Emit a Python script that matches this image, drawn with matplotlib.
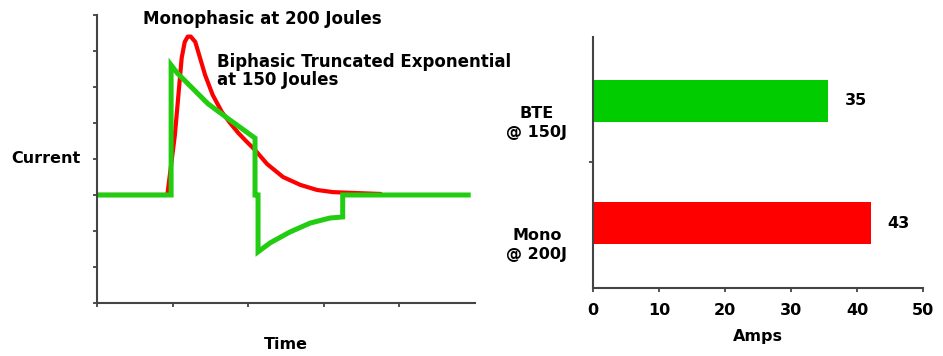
# defibrillation waveforms (left) and peak current bars (right)
import matplotlib.pyplot as plt

# monophasic damped sine waveform
mono_t = [0, 0.93, 1.03, 1.12, 1.16, 1.20, 1.24, 1.30, 1.43, 1.53, 1.65, 1.76, 1.87,
          1.98, 2.09, 2.25, 2.46, 2.69, 2.91, 3.12, 3.35, 3.74]
mono_i = [3, 3.0, 4.67, 6.81, 7.25, 7.40, 7.40, 7.25, 6.33, 5.78, 5.31, 5.00, 4.72,
          4.48, 4.25, 3.86, 3.50, 3.28, 3.14, 3.08, 3.06, 3.03]

# biphasic truncated exponential waveform
bte_t = [0, 0.98, 0.98, 1.06, 1.47, 1.76, 2.09, 2.09, 2.13, 2.13, 2.29, 2.55, 2.82,
         3.08, 3.25, 3.25, 4.91]
bte_i = [3, 3.0, 6.61, 6.39, 5.53, 5.08, 4.58, 3.0, 3.0, 1.42, 1.67, 1.97, 2.22,
         2.36, 2.39, 3.0, 3.0]

# bar chart data
categories = ["Mono\n@ 200J", "BTE\n@ 150J"]
amps = [42.1, 35.6]
amp_labels = ["43", "35"]
bar_colors = ["#ff0000", "#00cc00"]

plt.rcParams["font.family"] = "DejaVu Sans"
plt.rcParams["font.weight"] = "bold"
plt.rcParams["font.size"] = 11.5

fig = plt.figure(figsize=(9.43, 3.56), dpi=100)
axis_col = "#444444"

# ---- left: waveforms ----
ax1 = fig.add_axes([0.1029, 0.1489, 0.4008, 0.809])
ax1.plot(mono_t, mono_i, color="#ff0000", lw=3.0, solid_joinstyle="round")
ax1.plot(bte_t, bte_i, color="#22cc11", lw=3.6, solid_joinstyle="miter")
ax1.set_xlim(0, 5)
ax1.set_ylim(0, 8)
ax1.set_xticks([0, 1, 2, 3, 4])
ax1.set_yticks(range(9))
ax1.set_xticklabels([])
ax1.set_yticklabels([])
ax1.tick_params(length=3, width=1.3, color=axis_col)
for s in ["top", "right"]:
    ax1.spines[s].set_visible(False)
for s in ["left", "bottom"]:
    ax1.spines[s].set_color(axis_col)
    ax1.spines[s].set_linewidth(1.5)

ax1.set_xlabel("Time", fontweight="bold", labelpad=18)
ax1.set_ylabel("Current", fontweight="bold", rotation=0, ha="right", va="center")
ax1.yaxis.set_label_coords(-0.045, 0.5)

ax1.text(0.61, 7.89, "Monophasic at 200 Joules", ha="left", va="center",
         fontweight="bold", fontsize=12)
ax1.text(1.59, 6.44, "Biphasic Truncated Exponential\nat 150 Joules", ha="left",
         va="center", fontweight="bold", fontsize=12, linespacing=1.05)

# ---- right: peak current bars ----
ax2 = fig.add_axes([0.6288, 0.191, 0.35, 0.705])
pos = [0, 1]
ax2.barh(pos, amps, height=0.34, color=bar_colors)
ax2.set_xlim(0, 50)
ax2.set_ylim(-0.53, 1.52)
ax2.set_xticks([0, 10, 20, 30, 40, 50])
ax2.set_yticks([0.5])
ax2.set_yticklabels([])
ax2.tick_params(length=3, width=1.3, color=axis_col)
ax2.tick_params(axis="x", pad=8)
for s in ["top", "right"]:
    ax2.spines[s].set_visible(False)
for s in ["left", "bottom"]:
    ax2.spines[s].set_color(axis_col)
    ax2.spines[s].set_linewidth(1.5)

for p, cat in zip(pos, categories):
    ax2.text(-0.17, p - 0.18, cat, transform=ax2.get_yaxis_transform(),
             ha="center", va="center", fontweight="bold", linespacing=1.35)

for p, a, lab in zip(pos, amps, amp_labels):
    ax2.annotate(lab, (a, p), xytext=(12, 0), textcoords="offset points",
                 ha="left", va="center", fontweight="bold")

ax2.set_xlabel("Amps", fontweight="bold", labelpad=8)

plt.savefig("out.png", dpi=100)
